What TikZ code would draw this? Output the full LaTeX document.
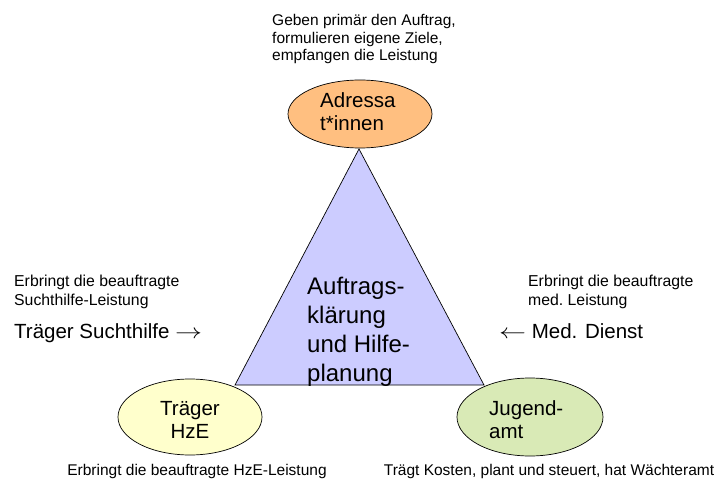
\documentclass[tikz,border=0pt]{standalone}
\usepackage{fontspec}
\usepackage{graphicx}
\setmainfont{Liberation Sans}
\usetikzlibrary{shapes.geometric}
\definecolor{orangeF}{RGB}{255,191,128}
\definecolor{yellowF}{RGB}{255,255,204}
\definecolor{greenF}{RGB}{217,234,182}
\definecolor{lavF}{RGB}{204,204,255}
\newcommand{\rarr}{\scalebox{1.3}[1]{$\rightarrow$}}
\newcommand{\larr}{\scalebox{1.3}[1]{$\leftarrow$}}
\begin{document}
\begin{tikzpicture}[x=1pt,y=-1pt,
  ell/.style={ellipse, draw=black, line width=0.7pt, inner sep=0pt},
  small/.style={font=\fontsize{15.5}{17.7}\selectfont, inner sep=0pt, align=left, anchor=base west},
  smalltwo/.style={font=\fontsize{15.8}{19}\selectfont, inner sep=0pt, align=left, anchor=base west},
  mid/.style={font=\fontsize{20.5}{23}\selectfont, inner sep=0pt, anchor=base west},
  midc/.style={font=\fontsize{20.5}{23}\selectfont, inner sep=0pt, align=center, anchor=base},
  big/.style={font=\fontsize{24}{28.7}\selectfont, inner sep=0pt, align=left, anchor=base west}]
\useasboundingbox (0,0) rectangle (728,481);
% ellipses
\node[ell, fill=orangeF, minimum width=144pt, minimum height=68pt] (adr) at (360,114) {};
\node[ell, fill=yellowF, minimum width=144pt, minimum height=76pt] (hze) at (190,417) {};
\node[ell, fill=greenF, minimum width=146pt, minimum height=78pt] (ja) at (530,417) {};
% triangle
\coordinate (tA) at (359,149);
\coordinate (tB) at (235,385);
\coordinate (tC) at (484,385);
\draw[line width=0.7pt, fill=lavF, line join=miter] (tA) -- (tB) -- (tC) -- cycle;
% texts (base anchor = baseline of the last line)
\node[small] (topT) at (272,61) {Geben primär den Auftrag,\\formulieren eigene Ziele,\\empfangen die Leistung};
\node[mid, align=left] (adrT) at (320,131) {Adressa\\t*innen};
\node[big] (midT) at (307,381) {Auftrags-\\klärung\\und Hilfe-\\planung};
\node[smalltwo] (leftT) at (14,305) {Erbringt die beauftragte\\Suchthilfe-Leistung};
\node[mid] (suchT) at (14,338) {Träger Suchthilfe \rarr};
\node[smalltwo] (rightT) at (528,305) {Erbringt die beauftragte\\med.\ Leistung};
\node[mid] (medT) at (499,338) {\larr\ Med. Dienst};
\node[midc] (hzeT) at (190,438) {Träger\\HzE};
\node[mid, align=left] (jaT) at (489,438) {Jugend-\\amt};
\node[small, anchor=base] (hzeB) at (197,475) {Erbringt die beauftragte HzE-Leistung};
\node[small, anchor=base] (jaB) at (549,475) {Trägt Kosten, plant und steuert, hat Wächteramt};
\end{tikzpicture}
\end{document}
